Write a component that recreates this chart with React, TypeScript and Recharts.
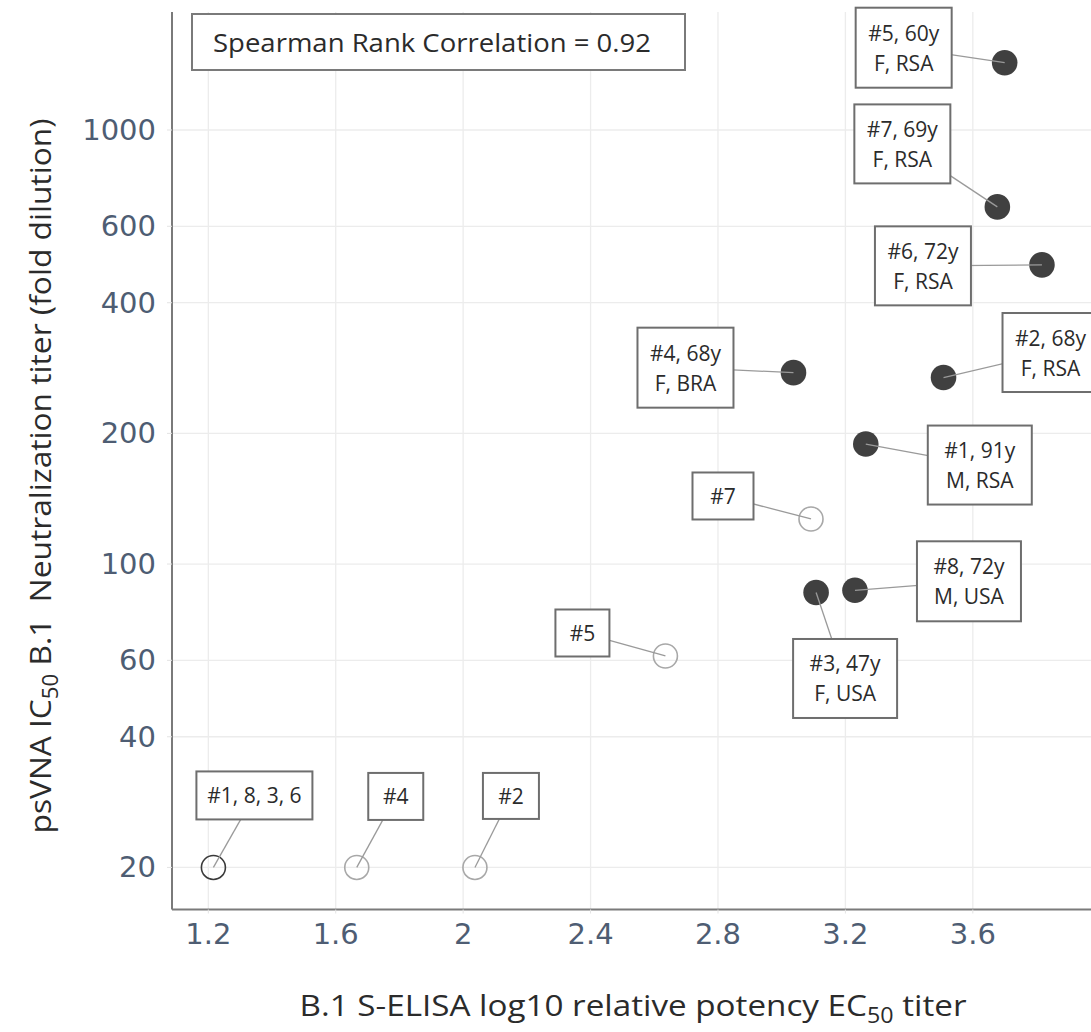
import React from "react";
import { ScatterChart, Scatter, XAxis, YAxis, CartesianGrid, Customized } from "recharts";

// x: B.1 S-ELISA log10 relative potency EC50, y: psVNA IC50 B.1 neutralization titer
const postLabels = [
  ["#5, 60y", "F, RSA"],
  ["#7, 69y", "F, RSA"],
  ["#6, 72y", "F, RSA"],
  ["#4, 68y", "F, BRA"],
  ["#2, 68y", "F, RSA"],
  ["#1, 91y", "M, RSA"],
  ["#8, 72y", "M, USA"],
  ["#3, 47y", "F, USA"],
];
const postElisa = [3.7, 3.677, 3.817, 3.037, 3.508, 3.264, 3.23, 3.108];
const postTiter = [1429, 665, 489, 276, 269, 189, 87, 86];

const preLabels = [["#7"], ["#5"], ["#4"], ["#2"]];
const preElisa = [3.092, 2.635, 1.666, 2.037];
const preTiter = [127, 61.4, 20, 20];

const pooledLabels = [["#1, 8, 3, 6"]];
const pooledElisa = [1.216];
const pooledTiter = [20];

const xTicks = [1.2, 1.6, 2, 2.4, 2.8, 3.2, 3.6];
const yTicks = [20, 40, 60, 100, 200, 400, 600, 1000];
const spearman = 0.92;

type Row = { x: number; y: number; lines: string[] };

const toRows = (labels: string[][], xs: number[], ys: number[]): Row[] =>
  xs.map((x, i) => ({ x, y: ys[i], lines: labels[i] }));

const postRows = toRows(postLabels, postElisa, postTiter);
const preRows = toRows(preLabels, preElisa, preTiter);
const pooledRows = toRows(pooledLabels, pooledElisa, pooledTiter);
const allRows = [...postRows, ...preRows, ...pooledRows];

// annotation box placement: [dx, dy, width, height] relative to the point
const LABEL_BOX: Record<string, [number, number, number, number]> = {
  "#5, 60y": [-101, -15, 96, 80],
  "#7, 69y": [-95, -63, 96, 79],
  "#6, 72y": [-119, 1, 96, 79],
  "#4, 68y": [-108, -5, 96, 80],
  "#2, 68y": [107, -25, 96, 79],
  "#1, 91y": [114, 21, 104, 79],
  "#8, 72y": [114, -9, 104, 80],
  "#3, 47y": [29, 86, 104, 79],
  "#7": [-88, -23, 61, 47],
  "#5": [-83, -23, 54, 47],
  "#4": [39, -71, 55, 47],
  "#2": [36, -71.5, 56, 46],
  "#1, 8, 3, 6": [41, -72, 116, 48],
};

const TICK_FONT = "'DejaVu Sans', Verdana, sans-serif";
const LABEL_FONT = "'Open Sans', 'Noto Sans', sans-serif";
const TICK_COLOR = "#4e5d73";

const FilledDot = (props: any) => (
  <circle cx={props.cx} cy={props.cy} r={12.8} fill="#404040" />
);

const OpenDot = (color: string) => (props: any) => (
  <circle cx={props.cx} cy={props.cy} r={12} fill="none" stroke={color} strokeWidth={1.6} />
);

const Annotation = (props: any) => {
  const { cx, cy, payload } = props;
  const lines: string[] = payload.lines;
  const [dx, dy, w, h] = LABEL_BOX[lines[0]];
  const bx = cx + dx;
  const by = cy + dy;
  return (
    <g>
      <line x1={cx} y1={cy} x2={bx} y2={by} stroke="#9a9a9a" strokeWidth={1.3} />
      <rect x={bx - w / 2} y={by - h / 2} width={w} height={h} fill="#fff" stroke="#6e6e6e" strokeWidth={2} />
      {lines.map((t, i) => (
        <text
          key={i}
          x={bx}
          y={by + (i - (lines.length - 1) / 2) * 30}
          textAnchor="middle"
          dominantBaseline="central"
          fontFamily={LABEL_FONT}
          fontSize={21}
          fill="#2b2b2b"
        >
          {t}
        </text>
      ))}
    </g>
  );
};

const XTick = (props: any) => (
  <text
    x={props.x}
    y={props.y}
    dy={12}
    textAnchor="middle"
    dominantBaseline="central"
    fontFamily={TICK_FONT}
    fontSize={29}
    fill={TICK_COLOR}
  >
    {String(props.payload.value)}
  </text>
);

const YTick = (props: any) => (
  <text
    x={props.x}
    y={props.y}
    textAnchor="end"
    dominantBaseline="central"
    fontFamily={TICK_FONT}
    fontSize={29}
    fill={TICK_COLOR}
  >
    {String(props.payload.value)}
  </text>
);

const Titles = () => (
  <g>
    <rect x={192} y={14} width={493} height={56} fill="#fff" stroke="#7a7a7a" strokeWidth={2} />
    <text
      x={213}
      y={42}
      dominantBaseline="central"
      fontFamily={LABEL_FONT}
      fontSize={26}
      textLength={438}
      lengthAdjust="spacingAndGlyphs"
      fill="#2b2b2b"
    >
      {`Spearman Rank Correlation = ${spearman.toFixed(2)}`}
    </text>
    <text
      x={633}
      y={1016}
      textAnchor="middle"
      fontFamily={LABEL_FONT}
      fontSize={30}
      textLength={667}
      lengthAdjust="spacingAndGlyphs"
      fill="#2b2b2b"
    >
      B.1 S-ELISA log10 relative potency EC
      <tspan fontSize={21} dy={7}>50</tspan>
      <tspan dy={-7}> titer</tspan>
    </text>
    <text
      transform="translate(51, 476) rotate(-90)"
      x={0}
      y={0}
      textAnchor="middle"
      fontFamily={LABEL_FONT}
      fontSize={30}
      textLength={715}
      lengthAdjust="spacingAndGlyphs"
      fill="#2b2b2b"
    >
      psVNA IC
      <tspan fontSize={21} dy={7}>50</tspan>
      <tspan dy={-7}>{" B.1\u00a0\u00a0Neutralization titer (fold dilution)"}</tspan>
    </text>
  </g>
);

export default function App() {
  return (
    <div
      style={{
        position: "absolute",
        left: 0,
        top: 0,
        width: 1091,
        height: 1032,
        overflow: "hidden",
        background: "#fff",
      }}
    >
      <ScatterChart width={1091} height={1032} margin={{ top: 12, right: 0, bottom: 0, left: 0 }}>
        <CartesianGrid
          stroke="#ececec"
          strokeWidth={1.3}
          horizontalValues={yTicks}
          verticalValues={xTicks}
        />
        <XAxis
          type="number"
          dataKey="x"
          domain={[1.086, 3.971]}
          ticks={xTicks}
          height={122.5}
          axisLine={{ stroke: "#7a7a7a", strokeWidth: 2 }}
          tickLine={{ stroke: "#e3e3e3" }}
          tickSize={4}
          tickMargin={8}
          tick={<XTick />}
        />
        <YAxis
          type="number"
          dataKey="y"
          scale="log"
          domain={[16, 1870]}
          ticks={yTicks}
          width={172}
          axisLine={{ stroke: "#7a7a7a", strokeWidth: 2 }}
          tickLine={{ stroke: "#e3e3e3" }}
          tickSize={5}
          tickMargin={11}
          tick={<YTick />}
        />
        <Scatter data={postRows} shape={FilledDot} isAnimationActive={false} />
        <Scatter data={preRows} shape={OpenDot("#a8a8a8")} isAnimationActive={false} />
        <Scatter data={pooledRows} shape={OpenDot("#3a3a3a")} isAnimationActive={false} />
        <Scatter data={allRows} shape={Annotation} isAnimationActive={false} />
        <Customized component={Titles} />
      </ScatterChart>
    </div>
  );
}
